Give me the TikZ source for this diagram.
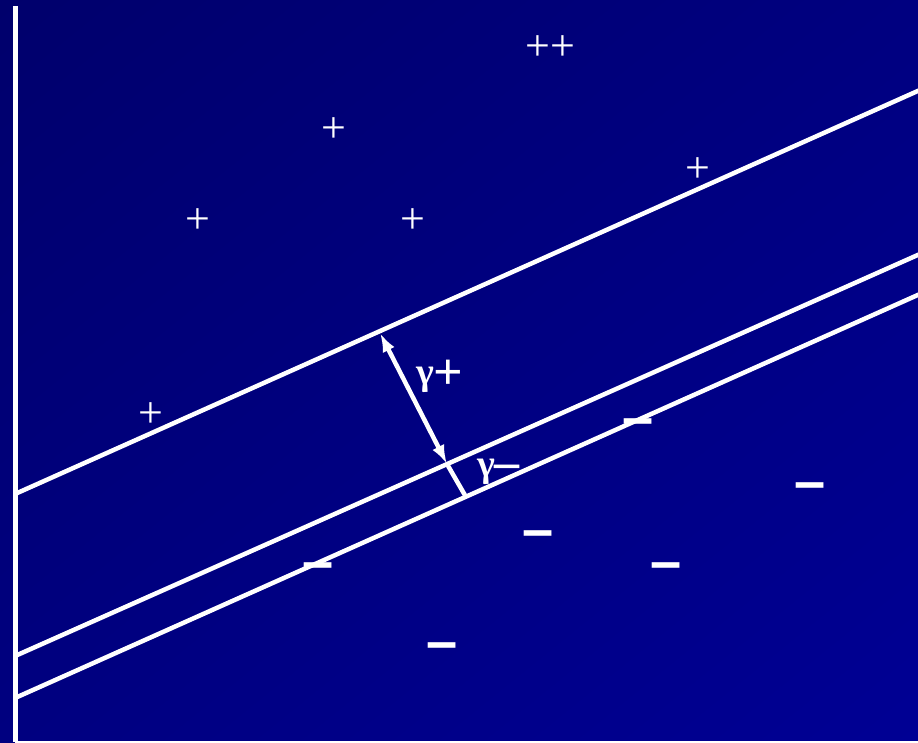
\documentclass[tikz,border=0pt]{standalone}
\usepackage{fontspec}
\setmainfont{Liberation Serif}
\newfontfamily\dashfont{Liberation Sans}
\usetikzlibrary{arrows.meta,shadings}
\definecolor{bgUL}{RGB}{0,0,108}
\definecolor{bgMid}{RGB}{0,0,128}
\definecolor{bgLR}{RGB}{0,0,148}
\begin{document}
\begin{tikzpicture}[x=1pt,y=-1pt,
  sepline/.style={white,line width=4.5pt},
  axisline/.style={white,line width=5pt},
  plusmark/.style={text=white,font=\fontsize{44}{44}\selectfont,inner sep=0pt},
  minusmark/.style={text=white,font=\dashfont\bfseries\fontsize{56}{56}\selectfont,inner sep=0pt,anchor=base},
  gammalab/.style={text=white,font=\bfseries\fontsize{38}{38}\selectfont,inner sep=0pt,anchor=base west},
  >={Latex[length=19pt,width=13pt]}]
\useasboundingbox (0,0) rectangle (918,742);
\shade[upper left=bgUL,upper right=bgMid,lower left=bgMid,lower right=bgLR] (0,0) rectangle (918,742);
% axes
\coordinate (ytop) at (15,6);
\coordinate (orig) at (15,742);
\coordinate (xend) at (918,742);
\draw[axisline] (ytop) -- (orig);
\draw[white,line width=3pt] (orig) -- (xend);
% hyperplanes
\coordinate (l1a) at (15,494); \coordinate (l1b) at (920,90);
\coordinate (l2a) at (15,656); \coordinate (l2b) at (920,254);
\coordinate (l3a) at (15,698); \coordinate (l3b) at (920,294);
\draw[sepline] (l1a) -- (l1b);
\draw[sepline] (l2a) -- (l2b);
\draw[sepline] (l3a) -- (l3b);
% margins
\coordinate (pA) at (380,333);
\coordinate (pB) at (447,464);
\coordinate (pC) at (466,497);
\draw[sepline,<->] (pA) -- (pB);
\draw[sepline] (pB) -- (pC);
\node[gammalab] (gp) at (416,384) {γ\raisebox{-5pt}{\fontsize{52}{52}\selectfont +}};
\node[gammalab] (gm) at (477,476) {γ\raisebox{-2pt}{\fontsize{50}{50}\selectfont –}};
% positive points
\node[plusmark] (p1) at (550.5,48) {++};
\node[plusmark] (p2) at (334,130) {+};
\node[plusmark] (p3) at (698,170) {+};
\node[plusmark] (p4) at (198,221) {+};
\node[plusmark] (p5) at (413,221) {+};
\node[plusmark] (p6) at (151,415) {+};
% negative points
\node[minusmark] (n1) at (638,436) {–};
\node[minusmark] (n2) at (810,500) {–};
\node[minusmark] (n3) at (538,548) {–};
\node[minusmark] (n4) at (666,580) {–};
\node[minusmark] (n5) at (318,580) {–};
\node[minusmark] (n6) at (442,660) {–};
\end{tikzpicture}
\end{document}
